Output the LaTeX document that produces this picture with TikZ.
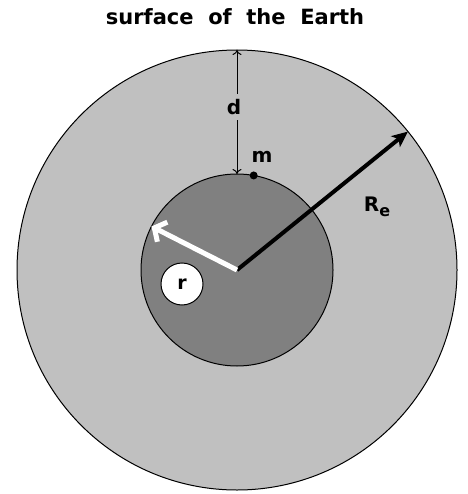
\documentclass[tikz,border=0pt]{standalone}
\usepackage{fontspec}
\setsansfont{DejaVu Sans}
\usetikzlibrary{arrows.meta,positioning,calc}
\definecolor{shellGray}{RGB}{192,192,192}
\definecolor{coreGray}{RGB}{128,128,128}
\tikzset{
    ballBase/.style={
        circle,
        draw=black,
        line width=1pt,
        inner sep=0pt,
        outer sep=0pt
    },
    % Layers
    shell/.style={ballBase, fill=shellGray, minimum size=440pt},
    core/.style={ballBase, fill=coreGray, minimum size=192pt},
    % Labels
    eLabel/.style={font=\sffamily\bfseries\fontsize{20}{22}\selectfont, inner sep=1pt},
    rBadge/.style={circle, draw=black, line width=1pt, fill=white, minimum size=42pt,
        inner sep=0pt, font=\sffamily\bfseries\fontsize{19}{20}\selectfont},
    % Arrows
    radiusArrow/.style={-{Stealth[length=16pt,width=14pt,inset=4pt]}, line width=4pt, draw=black},
    coreArrow/.style={-{Straight Barb[length=9pt,width=22pt]}, line width=5pt, draw=white},
    gapArrow/.style={{To[length=5pt,width=9pt]}-{To[length=5pt,width=9pt]}, line width=1pt}
}
\begin{document}
\begin{tikzpicture}[x=1pt, y=-1pt]
    \useasboundingbox (0,0) rectangle (467,494);
    \node[font=\sffamily\bfseries\fontsize{21}{24}\selectfont] (title) at (235,17) {surface\ \ of\ \ the\ \ Earth};
    \coordinate (ctr) at (237,270);
    \node[shell] (earth) at (ctr) {};
    \node[core] (inner) at (ctr) {};
    % distance below the surface
    \draw[gapArrow] (earth.north) -- (inner.north);
    \node[eLabel, fill=shellGray, inner ysep=5pt] (dlbl) at (234,107) {d};
    % mass on the inner sphere
    \fill (inner.80) circle (4pt);
    \node[eLabel] (mlbl) at (262,157) {m};
    % radii
    \draw[radiusArrow] (ctr) -- (earth.39);
    \draw[coreArrow] (ctr) -- (inner.153);
    \node[eLabel] (relbl) at (377,207) {R\raisebox{-5pt}{\fontsize{16}{17}\selectfont e}};
    \node[rBadge] (rlbl) at (182,284) {r};
\end{tikzpicture}
\end{document}
